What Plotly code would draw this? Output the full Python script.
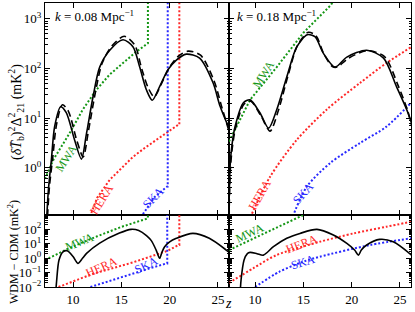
import plotly.graph_objects as go
from plotly.subplots import make_subplots
import math

# ---------------- data ----------------
# Top-left panel: k = 0.08 Mpc^-1, (delta T_b)^2 Delta^2_21 in mK^2
z_tl_cdm = [7.2, 7.45, 7.76, 8.1, 8.72, 9.3, 10.17, 10.87, 11.4, 12.07, 12.76, 13.8, 15.17, 16.2, 16.9, 17.6, 18.2, 18.96, 19.8, 20.69, 21.72, 23.1, 24.5, 25.2, 26.14]
p_tl_cdm = [0.05, 0.355, 1.45, 6.8, 17, 12.9, 3.6, 1.5, 5.0, 27, 107, 234, 380, 275, 107, 37, 23, 43, 93, 148, 195, 162, 51, 17.8, 6.3]
z_tl_wdm = [7.3, 7.55, 7.9, 8.3, 8.9, 9.5, 10.4, 11.05, 11.6, 12.3, 13.0, 14.0, 15.3, 16.4, 17.1, 17.8, 18.4, 19.2, 20.0, 20.9, 21.9, 23.2, 24.6, 25.4, 26.14]
p_tl_wdm = [0.063, 0.4, 1.6, 7.6, 18.6, 14.1, 3.5, 1.66, 5.6, 32, 126, 282, 447, 295, 100, 40, 27, 52, 107, 178, 224, 186, 56, 16.6, 5.5]
z_tl_mwa = [7.1, 8.0, 9.65, 11.0, 12.4, 13.8, 15.17, 16.5, 17.75, 17.75]
p_tl_mwa = [0.6, 1.5, 5.0, 14.8, 37, 76, 129, 214, 324, 3162]
z_tl_hera = [11.6, 12.5, 13.8, 15.0, 16.2, 17.4, 18.6, 19.7, 20.9, 21.0, 21.0]
p_tl_hera = [0.087, 0.25, 0.575, 1.0, 1.66, 2.5, 3.6, 5.2, 7.4, 7.4, 3162]
z_tl_ska = [17.0, 18.45, 19.75, 19.8, 19.8]
p_tl_ska = [0.1, 0.26, 0.42, 0.42, 3162]

# Top-right panel: k = 0.18 Mpc^-1
z_tr_cdm = [7.28, 7.41, 7.6, 7.93, 8.79, 9.48, 10.5, 11.4, 12.24, 13.28, 14.3, 15.4, 16.2, 17.06, 18.27, 19.5, 21.55, 23.3, 24.65, 25.7, 26.2]
p_tr_cdm = [0.08, 1.05, 2.8, 6.8, 20.4, 23.4, 12.9, 6.3, 14.8, 67.6, 269, 479, 437, 204, 107, 170, 234, 162, 42.7, 14.8, 7.9]
z_tr_wdm = [7.3, 7.45, 7.65, 7.98, 8.85, 9.55, 10.6, 11.55, 12.4, 13.4, 14.4, 15.5, 16.3, 17.1, 18.0, 18.5, 19.6, 21.6, 23.4, 24.8, 25.8, 26.2]
p_tr_wdm = [0.1, 1.0, 2.6, 6.3, 19.1, 21.9, 11.2, 5.5, 14.1, 70.8, 295, 537, 457, 200, 110, 107, 158, 229, 174, 45.7, 14.1, 7.1]
z_tr_mwa = [7.3, 9.48, 12.24, 15.0, 17.85, 18.2]
p_tr_mwa = [3.4, 23.4, 107, 525, 1905, 2512]
z_tr_hera = [9.5, 11.55, 14.3, 17.4, 20.86, 23.6, 26.14]
p_tr_hera = [0.1, 0.66, 3.63, 14.8, 51.3, 129, 269]
z_tr_ska = [13.9, 15.35, 17.8, 20.86, 23.6, 26.14]
p_tr_ska = [0.105, 0.417, 1.26, 3.16, 6.76, 20.4]

# Bottom-left panel: WDM - CDM (mK^2), k = 0.08
z_bl_diff = [8.2, 8.3, 8.55, 8.96, 9.4, 10.0, 10.5, 11.0, 11.4, 12.76, 14.8, 16.0, 16.8, 17.6, 18.1, 18.6, 18.96, 19.2, 19.48, 20.0, 20.69, 22.4, 24.1, 25.86, 26.14]
d_bl_diff = [0.00316, 0.025, 0.724, 2.69, 3.16, 1.26, 0.427, 1.0, 2.09, 10.7, 52.5, 95.5, 79.4, 35.5, 15.8, 3.55, 0.955, 2.51, 6.03, 13.2, 22.9, 50.1, 22.9, 3.55, 2.51]
z_bl_mwa = [7.1, 9.5, 12.5, 15.0, 17.75, 17.75]
d_bl_mwa = [0.71, 4.47, 31.6, 141, 550, 1585]
z_bl_hera = [8.5, 12.0, 16.2, 19.8, 20.9, 21.0, 21.0]
d_bl_hera = [0.01, 0.079, 0.5, 3.16, 7.9, 7.9, 1585]
z_bl_ska = [11.8, 15.0, 18.0, 19.7, 19.75, 19.75]
d_bl_ska = [0.01, 0.05, 0.2, 0.427, 0.427, 1585]

# Bottom-right panel: WDM - CDM (mK^2), k = 0.18
z_br_diff = [8.45, 8.55, 8.86, 9.2, 9.48, 10.2, 10.86, 11.9, 13.28, 14.65, 16.4, 18.1, 19.5, 20.3, 20.7, 21.0, 21.55, 22.9, 24.3, 26.2]
d_br_diff = [0.00316, 0.0316, 0.724, 2.0, 2.45, 2.0, 1.58, 6.03, 22.9, 50.1, 95.5, 38.9, 10.2, 3.55, 1.58, 3.55, 7.9, 19.5, 13.2, 1.58]
z_br_mwa = [7.3, 11.0, 15.1]
d_br_mwa = [3.55, 51.3, 1000]
z_br_hera = [7.3, 9.8, 12.2, 16.7, 20.2, 23.6, 26.14]
d_br_hera = [0.019, 0.195, 1.58, 13.2, 50.1, 145, 316]
z_br_ska = [10.0, 12.5, 15.0, 16.7, 21.9, 26.14]
d_br_ska = [0.01, 0.112, 0.562, 1.23, 7.9, 22.9]

x_ticks = [10, 15, 20, 25]
top_tickvals = [1, 10, 100, 1000]
top_ticktext = ["10<sup>0</sup>", "10<sup>1</sup>", "10<sup>2</sup>", "10<sup>3</sup>"]
bot_tickvals = [0.01, 0.1, 1, 10, 100]
bot_ticktext = ["10<sup>−2</sup>", "10<sup>−1</sup>", "10<sup>0</sup>", "10<sup>1</sup>", "10<sup>2</sup>"]

# ---------------- figure ----------------
SERIF = "Liberation Serif"
GREEN = "rgb(20,150,20)"
RED = "rgb(255,40,40)"
BLUE = "rgb(40,40,255)"

fig = make_subplots(rows=2, cols=2, row_heights=[212, 72], column_widths=[184, 182],
                    horizontal_spacing=0, vertical_spacing=0)


def add(z, v, row, col, color, dash, width, spline=False):
    fig.add_trace(go.Scatter(x=z, y=v, mode="lines",
                             line=dict(color=color, dash=dash, width=width,
                                       shape="spline" if spline else "linear",
                                       smoothing=0.8),
                             showlegend=False, hoverinfo="skip"), row=row, col=col)


DOT = "2px,2px"
DASH = "7px,4px"
# top-left
add(z_tl_mwa, p_tl_mwa, 1, 1, GREEN, DOT, 2)
add(z_tl_hera, p_tl_hera, 1, 1, RED, DOT, 2)
add(z_tl_ska, p_tl_ska, 1, 1, BLUE, DOT, 2)
add(z_tl_wdm, p_tl_wdm, 1, 1, "black", DASH, 1.6, True)
add(z_tl_cdm, p_tl_cdm, 1, 1, "black", "solid", 1.6, True)
# top-right
add(z_tr_mwa, p_tr_mwa, 1, 2, GREEN, DOT, 2)
add(z_tr_hera, p_tr_hera, 1, 2, RED, DOT, 2, True)
add(z_tr_ska, p_tr_ska, 1, 2, BLUE, DOT, 2, True)
add(z_tr_wdm, p_tr_wdm, 1, 2, "black", DASH, 1.6, True)
add(z_tr_cdm, p_tr_cdm, 1, 2, "black", "solid", 1.6, True)
# bottom-left
add(z_bl_mwa, d_bl_mwa, 2, 1, GREEN, DOT, 2)
add(z_bl_hera, d_bl_hera, 2, 1, RED, DOT, 2)
add(z_bl_ska, d_bl_ska, 2, 1, BLUE, DOT, 2)
add(z_bl_diff, d_bl_diff, 2, 1, "black", "solid", 1.6, True)
# bottom-right
add(z_br_mwa, d_br_mwa, 2, 2, GREEN, DOT, 2)
add(z_br_hera, d_br_hera, 2, 2, RED, DOT, 2, True)
add(z_br_ska, d_br_ska, 2, 2, BLUE, DOT, 2, True)
add(z_br_diff, d_br_diff, 2, 2, "black", "solid", 1.6, True)

axis_common = dict(showline=True, linecolor="black", linewidth=1, mirror="ticks",
                   ticks="inside", ticklen=5, tickwidth=1, tickcolor="black",
                   showgrid=False, zeroline=False,
                   tickfont=dict(family=SERIF, size=13, color="black"))


def minor_vals(lo, hi):
    return [m * 10 ** e for e in range(lo, hi) for m in range(2, 10)]


xr_left = [7.1, 26.14]
xr_right = [7.3, 26.14]
for r in (1, 2):
    for c in (1, 2):
        fig.update_xaxes(axis_common, row=r, col=c, tickmode="array", tickvals=x_ticks,
                         range=xr_left if c == 1 else xr_right,
                         showticklabels=(r == 2))
        if r == 1:
            fig.update_yaxes(axis_common, row=r, col=c, type="log", range=[-0.95, 3.32],
                             tickmode="array", tickvals=top_tickvals, ticktext=top_ticktext,
                             showticklabels=(c == 1),
                             minor=dict(ticks="inside", ticklen=2.5, tickwidth=0.8,
                                        tickcolor="black", tickmode="array",
                                        tickvals=minor_vals(-1, 4)))
        else:
            fig.update_yaxes(axis_common, row=r, col=c, type="log", range=[-2, 2.97],
                             tickmode="array", tickvals=bot_tickvals, ticktext=bot_ticktext,
                             showticklabels=(c == 1),
                             minor=dict(ticks="inside", ticklen=2.5, tickwidth=0.8,
                                        tickcolor="black", tickmode="array",
                                        tickvals=minor_vals(-2, 3)))

ann = []


def label(text, xref, yref, z, v, color, angle, size=12):
    ann.append(dict(text=text, xref=xref, yref=yref, x=z, y=math.log10(v),
                    xanchor="center", yanchor="middle",
                    showarrow=False, textangle=angle,
                    font=dict(family=SERIF, size=size, color=color)))


# curve labels
label("MWA", "x", "y", 9.3, 1.6, GREEN, -57)
label("HERA", "x", "y", 12.9, 0.23, RED, -58)
label("SKA", "x", "y", 18.27, 0.25, BLUE, -45)
label("MWA", "x2", "y2", 10.86, 79, GREEN, -57)
label("HERA", "x2", "y2", 10.45, 0.29, RED, -60)
label("SKA", "x2", "y2", 15.0, 0.31, BLUE, -48)
label("MWA", "x3", "y3", 10.7, 12, GREEN, -22)
label("HERA", "x3", "y3", 12.9, 0.25, RED, -24)
label("SKA", "x3", "y3", 17.6, 0.33, BLUE, -26)
label("MWA", "x4", "y4", 9.5, 50, GREEN, -25)
label("HERA", "x4", "y4", 14.8, 10, RED, -21)
label("SKA", "x4", "y4", 15.0, 0.5, BLUE, -17)


def paper_text(text, px, py, size, angle=0):
    ann.append(dict(text=text, xref="paper", yref="paper",
                    x=(px - 45) / 366, y=(287 - py) / 284,
                    xanchor="center", yanchor="middle", showarrow=False,
                    textangle=angle, font=dict(family=SERIF, size=size, color="black")))


paper_text("<i>k</i> = 0.08 Mpc<sup>−1</sup>", 94, 16, 13)
paper_text("<i>k</i> = 0.18 Mpc<sup>−1</sup>", 276, 16, 13)
paper_text("(<i>δT̄</i><sub>b</sub>)<sup>2</sup>Δ<sup>2</sup><sub>21</sub> (mK<sup>2</sup>)", 16, 112, 14, -90)
paper_text("WDM − CDM (mK<sup>2</sup>)", 13, 252, 12, -90)
paper_text("<i>z</i>", 228, 303, 14)

fig.update_layout(width=415, height=312, margin=dict(l=45, r=4, t=3, b=25),
                  paper_bgcolor="white", plot_bgcolor="white", annotations=ann,
                  showlegend=False)

fig.write_html("out.html", config={"displayModeBar": False},
               post_script="document.body.style.margin='0';document.body.style.padding='0';")
